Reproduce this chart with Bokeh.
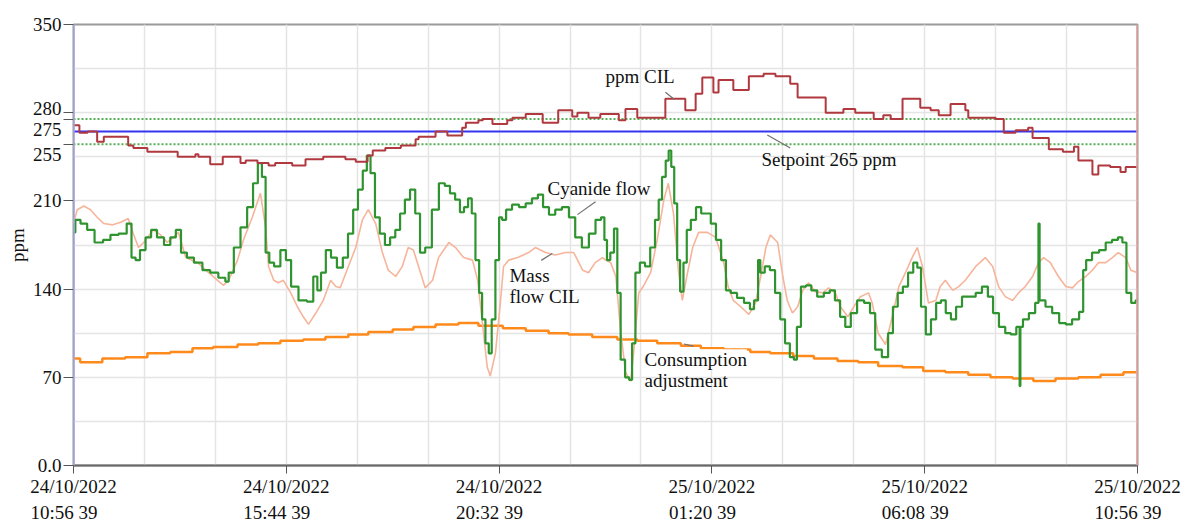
from bokeh.plotting import figure
from bokeh.models import Span, Label, FixedTicker
from bokeh.embed import file_html
from bokeh.resources import INLINE

FONT = "Liberation Serif"

# ---------------- data (time in minutes from 24/10/2022 10:56:39) ----------------
cyanide_t = [0, 5, 14, 23, 34, 46, 54, 68, 76, 81,
             87, 93, 102, 108, 118, 127, 135, 142, 149, 158,
             168, 181, 189, 203, 208, 212, 222, 230, 240, 246,
             253, 257, 263, 267, 276, 284, 291, 298, 311, 321,
             328, 332, 338, 345, 352, 361, 368, 375, 382, 388,
             395, 399, 405, 411, 418, 425, 432, 439, 445, 452,
             459, 466, 472, 480, 490, 499, 506, 513, 520, 526,
             531, 537, 541, 547, 551, 555, 560, 564, 568, 574,
             578, 582, 589, 598, 608, 616, 625, 632, 639, 648,
             656, 666, 675, 683, 693, 702, 711, 717, 720, 724,
             729, 734, 738, 743, 750, 754, 758, 763, 770, 777,
             784, 790, 794, 799, 804, 807, 811, 815, 819, 823,
             828, 832, 839, 846, 853, 859, 866, 873, 880, 886,
             893, 903, 912, 919, 923, 926, 927, 932, 939, 946,
             953, 960, 966, 973, 977, 981, 988, 995, 1002, 1011,
             1020, 1027, 1034, 1041, 1048, 1056, 1065, 1075, 1081, 1089,
             1099, 1106, 1112, 1119, 1126, 1133, 1140, 1144, 1150, 1157,
             1164, 1171, 1177, 1184, 1191, 1198, 1207, 1217, 1225, 1234,
             1241, 1248, 1257, 1265, 1272, 1280, 1281, 1282, 1288, 1298,
             1305, 1307, 1308, 1311, 1320, 1329, 1339, 1347, 1356, 1366,
             1367, 1374, 1383, 1393, 1401, 1410, 1417, 1422, 1428, 1435,
             1440]
cyanide_v = [185, 195, 192, 187, 177, 179, 183, 184, 192, 165,
             163, 171, 181, 187, 181, 175, 181, 187, 169, 165,
             161, 155, 153, 149, 146, 153, 173, 189, 205, 224,
             240, 229, 169, 161, 158, 171, 163, 142, 131, 130,
             150, 139, 153, 171, 165, 157, 165, 184, 203, 219,
             234, 246, 232, 197, 184, 175, 181, 187, 200, 211,
             219, 200, 169, 173, 203, 224, 222, 216, 211, 201,
             205, 212, 200, 163, 137, 116, 97, 89, 116, 163,
             197, 195, 203, 207, 205, 208, 212, 215, 205, 199,
             203, 205, 197, 181, 173, 184, 195, 197, 179, 163,
             169, 188, 137, 84, 70, 68, 97, 153, 161, 158,
             173, 195, 211, 229, 242, 250, 237, 208, 163, 138,
             161, 187, 195, 205, 200, 200, 192, 179, 163, 139,
             137, 133, 129, 124, 131, 131, 163, 153, 158, 155,
             137, 116, 97, 86, 84, 110, 142, 143, 139, 134,
             137, 139, 131, 118, 110, 121, 131, 129, 121, 92,
             86, 105, 126, 137, 142, 153, 161, 157, 126, 104,
             116, 129, 131, 121, 116, 126, 134, 134, 137, 142,
             134, 121, 110, 105, 104, 110, 63, 110, 116, 121,
             129, 192, 131, 131, 126, 121, 113, 112, 116, 122,
             155, 163, 169, 171, 177, 179, 181, 177, 137, 129,
             131]

mass_t = [0, 5, 14, 23, 32, 41, 53, 64, 74, 81,
          88, 95, 108, 118, 127, 135, 142, 152, 168, 181,
          195, 203, 210, 222, 230, 242, 253, 260, 264, 271,
          277, 284, 294, 303, 311, 318, 328, 338, 348, 355,
          361, 372, 382, 391, 399, 409, 418, 426, 436, 445,
          453, 460, 467, 476, 486, 494, 508, 517, 528, 540,
          547, 554, 560, 564, 571, 578, 582, 589, 601, 616,
          625, 639, 652, 666, 677, 689, 697, 706, 716, 720,
          727, 734, 740, 747, 754, 758, 765, 771, 781, 790,
          799, 805, 812, 819, 824, 831, 838, 846, 858, 869,
          880, 886, 893, 903, 914, 923, 930, 937, 943, 953,
          960, 966, 973, 980, 987, 995, 1004, 1014, 1022, 1031,
          1038, 1048, 1056, 1065, 1076, 1081, 1089, 1099, 1108, 1117,
          1126, 1135, 1142, 1149, 1157, 1167, 1173, 1180, 1190, 1198,
          1207, 1221, 1234, 1244, 1252, 1261, 1271, 1279, 1288, 1298,
          1306, 1313, 1322, 1333, 1343, 1352, 1360, 1370, 1379, 1387,
          1397, 1406, 1414, 1424, 1431, 1440]
mass_v = [192, 203, 206, 203, 197, 192, 191, 193, 196, 184,
          173, 177, 187, 183, 177, 181, 185, 165, 161, 154,
          147, 143, 147, 163, 179, 197, 216, 189, 158, 147,
          145, 147, 137, 126, 118, 112, 121, 131, 147, 142,
          141, 158, 173, 195, 203, 192, 169, 155, 150, 158,
          173, 171, 158, 141, 147, 165, 177, 173, 165, 163,
          147, 110, 78, 71, 89, 131, 158, 163, 165, 169,
          173, 169, 167, 169, 169, 155, 153, 161, 165, 163,
          161, 150, 110, 74, 67, 89, 137, 142, 153, 179,
          211, 224, 200, 153, 131, 153, 173, 185, 185, 181,
          161, 142, 131, 126, 120, 129, 150, 173, 183, 177,
          150, 131, 121, 126, 139, 145, 138, 137, 141, 137,
          126, 118, 126, 134, 137, 129, 105, 96, 118, 142,
          153, 165, 173, 158, 129, 131, 142, 147, 139, 142,
          147, 158, 165, 158, 142, 134, 131, 137, 142, 150,
          161, 165, 161, 150, 142, 141, 146, 150, 155, 161,
          161, 165, 169, 165, 155, 153]

ppm_t = [0, 8, 19, 32, 41, 74, 81, 100, 141, 165,
         169, 185, 202, 226, 233, 249, 264, 273, 296, 314,
         338, 368, 382, 398, 405, 422, 443, 463, 467, 490,
         506, 526, 531, 548, 554, 567, 587, 594, 612, 635,
         656, 675, 682, 697, 713, 738, 747, 763, 801, 828,
         842, 851, 866, 873, 893, 914, 934, 950, 970, 980,
         1018, 1042, 1058, 1083, 1096, 1106, 1122, 1146, 1160, 1171,
         1187, 1207, 1211, 1248, 1259, 1275, 1292, 1298, 1320, 1339,
         1354, 1360, 1379, 1387, 1403, 1417, 1424, 1440]
ppm_v = [270, 264, 265, 257, 261, 254, 252, 249, 245, 247,
         245, 239, 245, 240, 242, 240, 238, 240, 238, 243,
         245, 243, 241, 246, 250, 252, 254, 259, 261, 265,
         262, 268, 272, 274, 275, 271, 274, 276, 279, 272,
         282, 277, 280, 276, 279, 274, 283, 276, 291, 282,
         295, 308, 296, 306, 298, 309, 311, 309, 303, 292,
         280, 283, 280, 275, 278, 275, 291, 284, 282, 278,
         287, 282, 276, 275, 264, 266, 268, 260, 251, 249,
         253, 242, 231, 238, 237, 233, 237, 237]

consumption_t = [0, 9, 39, 70, 100, 131, 161, 189, 222, 250,
                 280, 311, 341, 372, 399, 432, 460, 490, 521, 548,
                 581, 612, 643, 670, 702, 736, 763, 790, 822, 849,
                 880, 916, 943, 974, 1002, 1034, 1062, 1089, 1122, 1150,
                 1180, 1211, 1241, 1271, 1299, 1329, 1360, 1390, 1421, 1440]
consumption_v = [85, 82, 85, 86, 89, 90, 93, 94, 96, 97,
                 99, 100, 102, 104, 106, 108, 110, 112, 113, 111,
                 109, 107, 105, 104, 102, 100, 99, 97, 95, 93,
                 92, 90, 89, 87, 85, 83, 82, 79, 78, 75,
                 74, 72, 70, 69, 67, 69, 70, 72, 74, 74]

setpoint = 265
upper_limit = 275
lower_limit = 255

x_ticks = [0, 288, 576, 864, 1152, 1440]
x_tick_dates = ["24/10/2022", "24/10/2022", "24/10/2022", "25/10/2022", "25/10/2022", "25/10/2022"]
x_tick_times = ["10:56 39", "15:44 39", "20:32 39", "01:20 39", "06:08 39", "10:56 39"]
x_grid = [0, 96, 192, 288, 384, 480, 576, 672, 768, 864, 960, 1056, 1152, 1248, 1344, 1440]

y_ticks = [0, 70, 140, 210, 255, 275, 280, 350]
y_tick_labels = {0: "0.0", 70: "70", 140: "140", 210: "210", 255: "\n255",
                 275: "280\n275", 280: "", 350: "350"}
y_grid = [0, 35, 70, 105, 140, 175, 210, 245, 280, 315, 350]

annotation_texts = ["ppm CIL", "Setpoint 265 ppm", "Cyanide flow", "Mass", "flow CIL",
                    "Consumption", "adjustment"]

# ---------------- figure ----------------
p = figure(width=1197, height=525, output_backend="svg", toolbar_location=None,
           x_range=(0, 1440), y_range=(0, 350),
           min_border_left=73, min_border_right=60, min_border_top=24, min_border_bottom=58)
p.background_fill_color = "white"
p.border_fill_color = "white"
p.outline_line_color = "#9a9a9a"
p.outline_line_width = 2

p.xgrid.ticker = FixedTicker(ticks=x_grid)
p.ygrid.ticker = FixedTicker(ticks=y_grid)
for g in (p.xgrid, p.ygrid):
    g.grid_line_color = "#e4e4e4"
    g.grid_line_width = 1.5

pad = "\u00a0" * 4
p.xaxis.ticker = FixedTicker(ticks=x_ticks)
p.xaxis.major_label_overrides = {t: d + "\n" + h + pad
                                 for t, d, h in zip(x_ticks, x_tick_dates, x_tick_times)}
p.xaxis.major_label_text_font = FONT
p.xaxis.major_label_text_font_size = "19px"
p.xaxis.major_label_text_color = "#111111"
p.xaxis.major_label_text_line_height = 1.25
p.xaxis.major_label_standoff = 2
p.xaxis.axis_line_color = "#6a6a6a"
p.xaxis.axis_line_width = 2
p.xaxis.major_tick_out = 8
p.xaxis.major_tick_in = 0
p.xaxis.major_tick_line_color = "#555555"
p.xaxis.minor_tick_line_color = None

p.yaxis.ticker = FixedTicker(ticks=y_ticks)
p.yaxis.major_label_overrides = y_tick_labels
p.yaxis.major_label_text_font = FONT
p.yaxis.major_label_text_font_size = "19px"
p.yaxis.major_label_text_color = "#111111"
p.yaxis.major_label_text_line_height = 1.0
p.yaxis.major_label_standoff = 2
p.yaxis.axis_line_color = None
p.yaxis.major_tick_out = 10
p.yaxis.major_tick_in = 0
p.yaxis.major_tick_line_color = "#555555"
p.yaxis.minor_tick_line_color = None
p.yaxis.axis_label = "ppm"
p.yaxis.axis_label_text_font = FONT
p.yaxis.axis_label_text_font_size = "19px"
p.yaxis.axis_label_text_font_style = "normal"
p.yaxis.axis_label_text_color = "#111111"
p.yaxis.axis_label_standoff = 2

# reference lines
p.add_layout(Span(location=upper_limit, dimension="width", line_color="#55b055",
                  line_width=2, line_dash="2 2", level="underlay"))
p.add_layout(Span(location=lower_limit, dimension="width", line_color="#55b055",
                  line_width=2, line_dash="2 2", level="underlay"))
p.add_layout(Span(location=setpoint, dimension="width", line_color="#3535f0",
                  line_width=2, level="underlay"))

# series
p.step(consumption_t, consumption_v, mode="after", line_color="#ff8a1c", line_width=2.5)
p.line(mass_t, mass_v, line_color="#f6b59b", line_width=1.6)
p.step(cyanide_t, cyanide_v, mode="center", line_color="#2f942f", line_width=2.2)
p.step(ppm_t, ppm_v, mode="after", line_color="#b0393f", line_width=2)

# cursor lines at both ends
p.add_layout(Span(location=x_ticks[0], dimension="height", line_color="#a8a8f4", line_width=2.5))
p.add_layout(Span(location=x_ticks[-1], dimension="height", line_color="#f2a3a3", line_width=2.5))

# leader lines of the annotations
lead_x0 = [801, 939, 682, 633, 826]
lead_y0 = [296.3, 262.3, 199.1, 162.8, 96.4]
lead_x1 = [813, 970, 706.5, 648, 839]
lead_y1 = [290.7, 252.0, 209.4, 168.3, 94.8]
p.segment(lead_x0, lead_y0, lead_x1, lead_y1, line_color="#707070", line_width=1.2)

# annotation texts
ann_x = [720, 931, 641.5, 590, 590, 772.8, 772.8]
ann_y = [308.6, 242.7, 220, 151, 134.4, 84, 67.5]
ann_bg = [None, None, None, None, None, "white", None]
for txt, ax, ay, bg in zip(annotation_texts, ann_x, ann_y, ann_bg):
    p.add_layout(Label(x=ax, y=ay, text=txt, text_font=FONT, text_font_size="19px",
                       text_color="#111111", text_align="left", text_baseline="alphabetic",
                       background_fill_color=bg))

open("out.html", "w").write(file_html(p, INLINE))
